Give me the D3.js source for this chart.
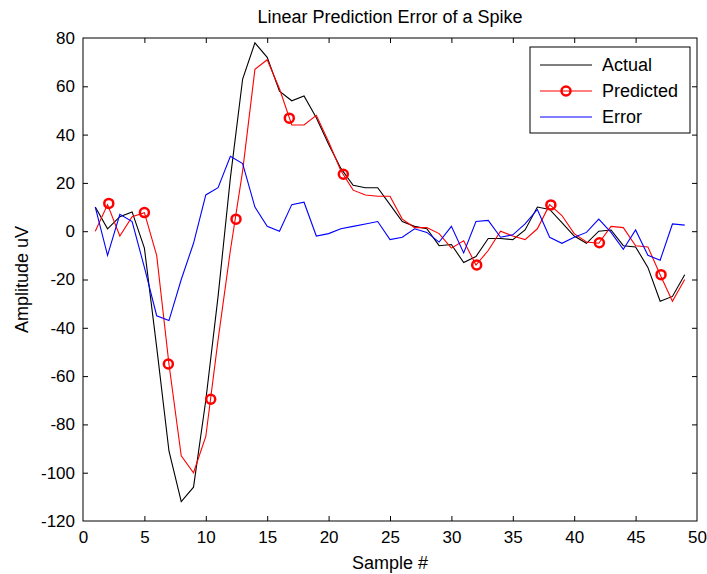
<!DOCTYPE html>
<html>
<head>
<meta charset="utf-8">
<script src="https://cdn.jsdelivr.net/npm/d3@7"></script>
<style>
  html, body { margin: 0; padding: 0; background: #fff; }
  text { font-family: "Liberation Sans", Arial, sans-serif; fill: #000; }
</style>
</head>
<body>
<svg id="chart" width="707" height="574"></svg>
<script>
const samples = [1,2,3,4,5,6,7,8,9,10,11,12,13,14,15,16,17,18,19,20,21,22,23,24,25,26,27,28,29,30,31,32,33,34,35,36,37,38,39,40,41,42,43,44,45,46,47,48,49];
const actual = [10,1,6,8,-7,-48,-91,-112,-106,-70,
  -27,22,63,78,72,58,54,56,47,36,
  26,19,18,18,11,4,2,1,-6,-5.5,
  -13,-10.5,-3,-3,-3.5,0.5,10,9,3.5,-2,
  -5,0,0.5,-6,-6.5,-15,-29,-27,-18];
const predicted = [0,11,-2,6,7.7,-10,-55,-93,-100,-85,
  -45,-8,25,67,71,59,44,44,48,37,
  25,17,15,14.5,14.5,5,1.5,1.5,-1,-7,
  -4,-14,-8,0,-2,-3.5,1,11,6.5,-1,
  -4.5,-5,2,1.5,-6,-6.5,-18,-29,-20];
const errorVals = [10,-10,7,4,-15,-35,-37,-20,-5,15,
  18,31,28,10,2,0,11,12,-2,-1,
  1,2,3,4,-3.5,-2.5,1,-0.5,-4.5,2,
  -9,4,4.5,-2.5,-1.5,3,9,-2.5,-5,-2.5,
  -0.5,5,-0.5,-7.5,0.5,-10,-12,3,2.5];
const markerX = [2.1,5.0,6.95,10.4,12.46,16.8,21.2,32.06,38.1,42.05,47.07];
const markerY = [11.5,7.7,-55,-69.6,5,46.8,23.6,-14,10.9,-4.8,-18];
const xTicks = [0,5,10,15,20,25,30,35,40,45,50];
const yTicks = [-120,-100,-80,-60,-40,-20,0,20,40,60,80];
const legendLabels = ["Actual","Predicted","Error"];
const seriesColors = ["#000000","#ff0000","#0000ff"];

const svg = d3.select("#chart");
const L = 83, R = 697, T = 38, B = 521;
const x = d3.scaleLinear().domain([0,50]).range([L,R]);
const y = d3.scaleLinear().domain([-120,80]).range([B,T]);

svg.append("rect").attr("x",L).attr("y",T).attr("width",R-L).attr("height",B-T)
  .attr("fill","#fff").attr("stroke","#000").attr("stroke-width",1);

const tl = 5;
const fmt = d => String(d);
const xb = svg.append("g").attr("transform",`translate(0,${B})`)
  .call(d3.axisBottom(x).tickValues(xTicks).tickSize(-tl).tickPadding(10).tickFormat(fmt));
const xt = svg.append("g").attr("transform",`translate(0,${T})`)
  .call(d3.axisTop(x).tickValues(xTicks).tickSize(-tl).tickFormat(""));
const yl = svg.append("g").attr("transform",`translate(${L},0)`)
  .call(d3.axisLeft(y).tickValues(yTicks).tickSize(-tl).tickPadding(8).tickFormat(fmt));
const yr = svg.append("g").attr("transform",`translate(${R},0)`)
  .call(d3.axisRight(y).tickValues(yTicks).tickSize(-tl).tickFormat(""));
[xb,xt,yl,yr].forEach(g => {
  g.select(".domain").remove();
  g.selectAll("line").attr("stroke","#000");
  g.selectAll("text").attr("font-size",17).attr("font-family","Liberation Sans, Arial, sans-serif").attr("fill","#000");
});
xt.selectAll(".tick").filter(d => d===0 || d===50).remove();
xb.selectAll(".tick line").filter(d => d===0 || d===50).remove();
yl.selectAll(".tick line").filter(d => d===-120 || d===80).remove();
yr.selectAll(".tick").filter(d => d===-120 || d===80).remove();

svg.append("clipPath").attr("id","clip").append("rect")
  .attr("x",L).attr("y",T).attr("width",R-L).attr("height",B-T);

const line = d3.line().x(d => x(d[0])).y(d => y(d[1]));
const g = svg.append("g").attr("clip-path","url(#clip)");
const series = [actual, predicted, errorVals];
series.forEach((vals,i) => {
  g.append("path").datum(samples.map((s,k)=>[s, vals[k]]))
    .attr("d", line).attr("fill","none").attr("stroke", seriesColors[i]).attr("stroke-width",1.1);
});
g.selectAll("circle.mk").data(markerX.map((mx,k)=>[mx, markerY[k]])).enter()
  .append("circle").attr("class","mk")
  .attr("cx", d => x(d[0])).attr("cy", d => y(d[1])).attr("r",4.5)
  .attr("fill","none").attr("stroke","#ff0000").attr("stroke-width",2.5);

svg.append("text").attr("x",(L+R)/2).attr("y",23).attr("text-anchor","middle")
  .attr("font-size",18).text("Linear Prediction Error of a Spike");
svg.append("text").attr("x",(L+R)/2).attr("y",569).attr("text-anchor","middle")
  .attr("font-size",18).text("Sample #");
svg.append("text").attr("transform",`translate(28,${(T+B)/2}) rotate(-90)`).attr("text-anchor","middle")
  .attr("font-size",18).text("Amplitude uV");

const lg = svg.append("g");
lg.append("rect").attr("x",530).attr("y",47).attr("width",160).attr("height",86)
  .attr("fill","#fff").attr("stroke","#000").attr("stroke-width",1);
legendLabels.forEach((lab,i) => {
  const yy = 65 + i*26;
  lg.append("line").attr("x1",540).attr("x2",592).attr("y1",yy).attr("y2",yy)
    .attr("stroke",seriesColors[i]).attr("stroke-width",1.1);
  if (i===1) lg.append("circle").attr("cx",566).attr("cy",yy).attr("r",4.5)
    .attr("fill","none").attr("stroke","#ff0000").attr("stroke-width",2.5);
  lg.append("text").attr("x",602).attr("y",yy+6).attr("font-size",18).text(lab);
});
</script>
</body>
</html>
